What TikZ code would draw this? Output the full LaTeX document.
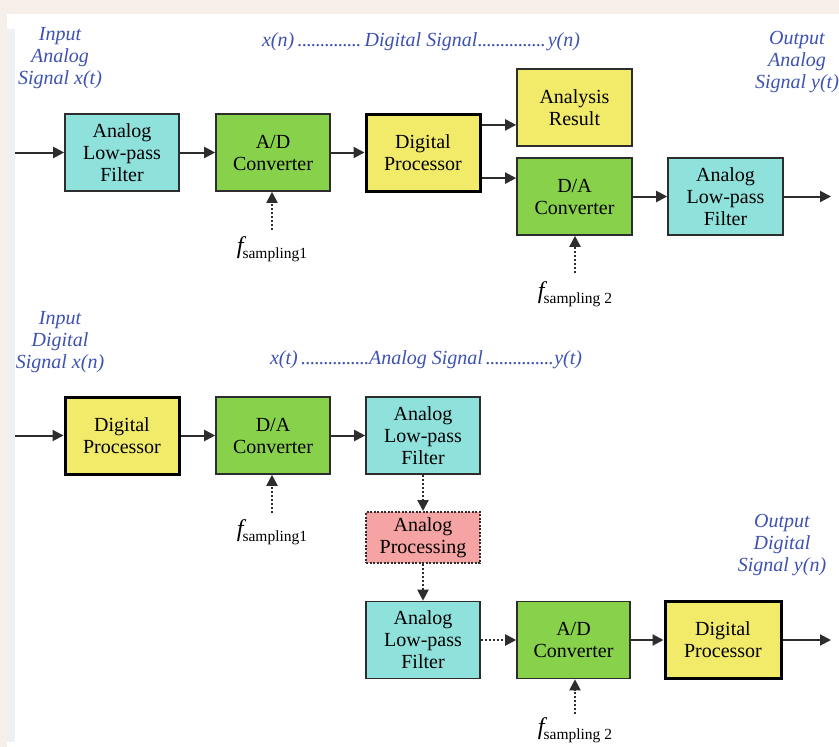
\documentclass[tikz,border=0pt]{standalone}
\usepackage{fontspec}
\setmainfont{Liberation Serif}
\usetikzlibrary{arrows.meta,calc}
\definecolor{bgbeige}{RGB}{246,239,233}
\definecolor{stripgrey}{RGB}{238,240,243}
\definecolor{cyanbox}{RGB}{143,225,220}
\definecolor{greenbox}{RGB}{136,209,74}
\definecolor{yellowbox}{RGB}{242,235,106}
\definecolor{pinkbox}{RGB}{245,163,163}
\definecolor{bordergrey}{RGB}{45,45,45}
\definecolor{lblblue}{RGB}{62,82,178}
\newcommand{\dts}{\leaders\hbox to 4.5pt{\hss.\hss}\hfill}
\newcommand{\fsamp}[1]{{\fontsize{24}{24}\selectfont\itshape f}\kern-1pt\raisebox{-5pt}{\fontsize{15.5}{15.5}\selectfont sampling#1}}
\tikzset{
  blk/.style={draw=bordergrey, line width=1.6pt, minimum width=114pt, minimum height=77pt, inner sep=0pt, align=center, font=\fontsize{20}{22}\selectfont},
  thickblk/.style={blk, draw=black, line width=3pt},
  lpf/.style={blk, fill=cyanbox},
  conv/.style={blk, fill=greenbox},
  proc/.style={thickblk, fill=yellowbox},
  res/.style={blk, fill=yellowbox},
  apbox/.style={blk, fill=pinkbox, minimum height=51pt, dash pattern=on 2pt off 1.5pt, line width=2pt},
  lbl/.style={text=lblblue, align=center, inner sep=0pt, font=\fontsize{20}{22}\selectfont\itshape},
  flbl/.style={inner sep=0pt, anchor=north},
  arr/.style={line width=2pt, draw=bordergrey, -{Triangle[length=11pt,width=11pt]}},
  darr/.style={arr, dash pattern=on 2pt off 2pt},
}
\begin{document}
\begin{tikzpicture}[x=1pt,y=-1pt]
\useasboundingbox (0,0) rectangle (839,747);
\fill[bgbeige] (0,0) rectangle (839,747);
\fill[white] (7,14) rectangle (839,747);
\fill[stripgrey] (7,29) rectangle (15,742);

% ---------- top diagram ----------
\node[lbl] (inA) at (60,58) {Input\\Analog\\Signal \textit{x}(\textit{t})};
\node[lbl] (midA) at (421,42) {\hbox to 318pt{x(n)\dts Digital Signal\dts y(n)}};
\node[lbl] (outA) at (797,62) {Output\\Analog\\Signal \textit{y}(\textit{t})};

\node[lpf]  (lpf1) at (122,152.5) {Analog\\Low-pass\\Filter};
\node[conv] (ad1)  at (273,152.5) {A/D\\Converter};
\node[proc] (dp1)  at (423,152.5) {Digital\\Processor};
\node[res, minimum width=115pt]  (ar)   at (574.5,107.5) {Analysis\\Result};
\node[conv, minimum width=115pt] (da1)  at (574.5,196.5) {D/A\\Converter};
\node[lpf, minimum width=115pt]  (lpf2) at (725.5,196.5) {Analog\\Low-pass\\Filter};

\coordinate (in1) at (15,152.5);
\coordinate (out1) at (831,196.5);
\draw[arr] (in1) -- (lpf1.west);
\draw[arr] (lpf1) -- (ad1);
\draw[arr] (ad1) -- (dp1);
\draw[arr] ($(dp1.north east)!0.155!(dp1.south east)$) coordinate (p1) -- (p1 -| ar.west);
\draw[arr] ($(dp1.north east)!0.82!(dp1.south east)$) coordinate (p2) -- (p2 -| da1.west);
\draw[arr] (da1) -- (lpf2);
\draw[arr] (lpf2.east) -- (out1);

\node[flbl] (fs1) at (272,236) {\fsamp{1}};
\node[flbl] (fs2) at (575,281) {\fsamp{ 2}};
\draw[darr] ($(fs1.north)+(0,-6)$) coordinate (q1) -- (q1 |- ad1.south);
\draw[darr] ($(fs2.north)+(0,-8)$) coordinate (q2) -- (q2 |- da1.south);

% ---------- bottom diagram ----------
\node[lbl] (inD) at (60,342) {Input\\Digital\\Signal \textit{x}(\textit{n})};
\node[lbl] (midD) at (426,360) {\hbox to 312pt{x(t)\dts Analog Signal\dts y(t)}};
\node[lbl] (outD) at (782,545) {Output\\Digital\\Signal \textit{y}(\textit{n})};

\node[proc] (dp2)  at (122,435.5) {Digital\\Processor};
\node[conv] (da2)  at (273,435.5) {D/A\\Converter};
\node[lpf]  (lpf3) at (423,435.5) {Analog\\Low-pass\\Filter};
\node[apbox] (ap)  at (423,537.5) {Analog\\Processing};
\node[lpf]  (lpf4) at (423,640) {Analog\\Low-pass\\Filter};
\node[conv, minimum width=113pt] (ad2) at (573.5,640) {A/D\\Converter};
\node[proc, minimum width=116pt] (dp3) at (723,640) {Digital\\Processor};

\coordinate (in2) at (15,435.5);
\coordinate (out2) at (831,640);
\draw[arr] (in2) -- (dp2.west);
\draw[arr] (dp2) -- (da2);
\draw[arr] (da2) -- (lpf3);
\draw[darr] (lpf3) -- (ap);
\draw[darr] (ap) -- (lpf4);
\draw[darr] (lpf4) -- (ad2);
\draw[arr] (ad2) -- (dp3);
\draw[arr] (dp3.east) -- (out2);

\node[flbl] (fs3) at (272,519) {\fsamp{1}};
\node[flbl] (fs4) at (575,717) {\fsamp{ 2}};
\draw[darr] ($(fs3.north)+(0,-6)$) coordinate (q3) -- (q3 |- da2.south);
\draw[darr] ($(fs4.north)+(0,-3)$) coordinate (q4) -- (q4 |- ad2.south);
\end{tikzpicture}
\end{document}
